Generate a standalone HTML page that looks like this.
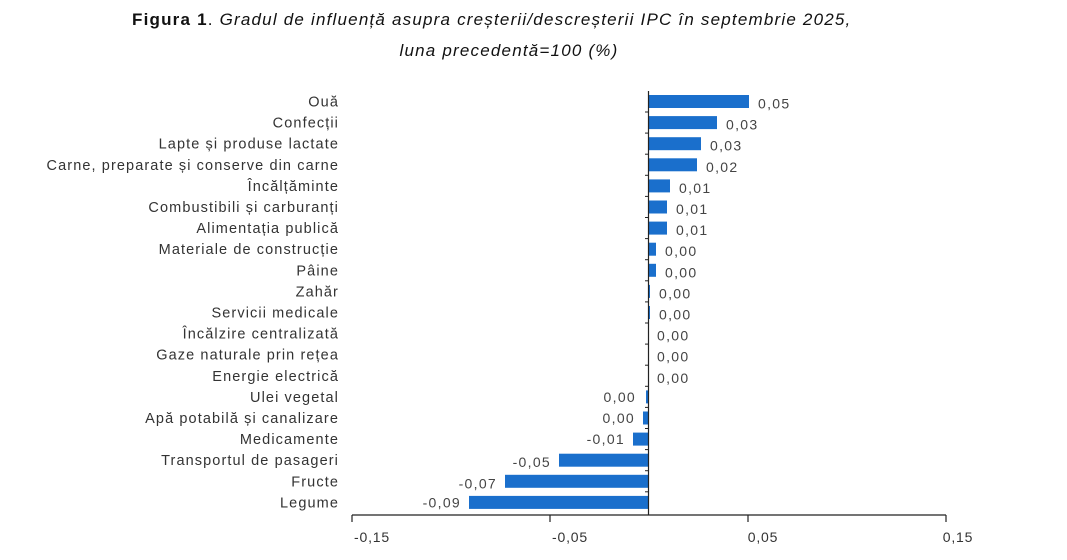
<!DOCTYPE html>
<html><head><meta charset="utf-8"><style>
body{margin:0;background:#fff;width:1067px;height:555px;overflow:hidden}
svg{font-family:"Liberation Sans",sans-serif}
</style></head><body>
<svg width="1067" height="555" viewBox="0 0 1067 555">
<text x="132" y="25" font-size="17" fill="#111" letter-spacing="1.2"><tspan font-weight="bold">Figura 1</tspan><tspan>. </tspan><tspan font-style="italic">Gradul de influență asupra creșterii/descreșterii IPC în septembrie 2025,</tspan></text>
<text x="509" y="56" font-size="17" fill="#111" font-style="italic" text-anchor="middle" letter-spacing="1.2">luna precedentă=100 (%)</text>
<g fill="#1a6fcc">
<rect x="648.5" y="95" width="100.5" height="13"/>
<rect x="648.5" y="116.1" width="68.5" height="13"/>
<rect x="648.5" y="137.2" width="52.5" height="13"/>
<rect x="648.5" y="158.3" width="48.5" height="13"/>
<rect x="648.5" y="179.4" width="21.5" height="13"/>
<rect x="648.5" y="200.5" width="18.5" height="13"/>
<rect x="648.5" y="221.6" width="18.5" height="13"/>
<rect x="648.5" y="242.7" width="7.5" height="13"/>
<rect x="648.5" y="263.8" width="7.5" height="13"/>
<rect x="648.5" y="284.9" width="1.5" height="13"/>
<rect x="648.5" y="306" width="1.5" height="13"/>
<rect x="646" y="390.4" width="2.5" height="13"/>
<rect x="643" y="411.5" width="5.5" height="13"/>
<rect x="633" y="432.6" width="15.5" height="13"/>
<rect x="559" y="453.7" width="89.5" height="13"/>
<rect x="505" y="474.8" width="143.5" height="13"/>
<rect x="469" y="495.9" width="179.5" height="13"/>
</g>
<g font-size="14.5" fill="#333" text-anchor="end" letter-spacing="1.1">
<text x="339" y="106.5">Ouă</text>
<text x="339" y="127.6">Confecții</text>
<text x="339" y="148.7">Lapte și produse lactate</text>
<text x="339" y="169.8">Carne, preparate și conserve din carne</text>
<text x="339" y="190.9">Încălțăminte</text>
<text x="339" y="212">Combustibili și carburanți</text>
<text x="339" y="233.1">Alimentația publică</text>
<text x="339" y="254.2">Materiale de construcție</text>
<text x="339" y="275.3">Pâine</text>
<text x="339" y="296.4">Zahăr</text>
<text x="339" y="317.5">Servicii medicale</text>
<text x="339" y="338.6">Încălzire centralizată</text>
<text x="339" y="359.7">Gaze naturale prin rețea</text>
<text x="339" y="380.8">Energie electrică</text>
<text x="339" y="401.9">Ulei vegetal</text>
<text x="339" y="423">Apă potabilă și canalizare</text>
<text x="339" y="444.1">Medicamente</text>
<text x="339" y="465.2">Transportul de pasageri</text>
<text x="339" y="486.3">Fructe</text>
<text x="339" y="507.4">Legume</text>
</g>
<g font-size="14" fill="#444" letter-spacing="1.3">
<text x="758" y="108.5">0,05</text>
<text x="726" y="129.6">0,03</text>
<text x="710" y="150.7">0,03</text>
<text x="706" y="171.8">0,02</text>
<text x="679" y="192.9">0,01</text>
<text x="676" y="214">0,01</text>
<text x="676" y="235.1">0,01</text>
<text x="665" y="256.2">0,00</text>
<text x="665" y="277.3">0,00</text>
<text x="659" y="298.4">0,00</text>
<text x="659" y="319.5">0,00</text>
<text x="657" y="340.6">0,00</text>
<text x="657" y="361.7">0,00</text>
<text x="657" y="382.8">0,00</text>
</g>
<g font-size="14" fill="#444" text-anchor="end" letter-spacing="1.3">
<text x="636" y="401.9">0,00</text>
<text x="635" y="423">0,00</text>
<text x="625" y="444.1">-0,01</text>
<text x="551" y="467.2">-0,05</text>
<text x="497" y="488.3">-0,07</text>
<text x="461" y="507.4">-0,09</text>
</g>
<g stroke="#222" stroke-width="1">
<line x1="645" y1="112" x2="648.5" y2="112"/><line x1="645" y1="133.1" x2="648.5" y2="133.1"/>
<line x1="645" y1="154.2" x2="648.5" y2="154.2"/><line x1="645" y1="175.3" x2="648.5" y2="175.3"/>
<line x1="645" y1="196.4" x2="648.5" y2="196.4"/><line x1="645" y1="217.5" x2="648.5" y2="217.5"/>
<line x1="645" y1="238.6" x2="648.5" y2="238.6"/><line x1="645" y1="259.7" x2="648.5" y2="259.7"/>
<line x1="645" y1="280.8" x2="648.5" y2="280.8"/><line x1="645" y1="301.9" x2="648.5" y2="301.9"/>
<line x1="645" y1="323" x2="648.5" y2="323"/><line x1="645" y1="344.1" x2="648.5" y2="344.1"/>
<line x1="645" y1="365.2" x2="648.5" y2="365.2"/><line x1="645" y1="386.3" x2="648.5" y2="386.3"/>
<line x1="645" y1="407.4" x2="648.5" y2="407.4"/><line x1="645" y1="428.5" x2="648.5" y2="428.5"/>
<line x1="645" y1="449.6" x2="648.5" y2="449.6"/><line x1="645" y1="470.7" x2="648.5" y2="470.7"/>
<line x1="645" y1="491.8" x2="648.5" y2="491.8"/>
</g>
<line x1="352" y1="515" x2="946" y2="515" stroke="#222" stroke-width="1.2"/>
<g stroke="#222" stroke-width="1.2">
<line x1="352" y1="515" x2="352" y2="522"/><line x1="550" y1="515" x2="550" y2="522"/>
<line x1="748" y1="515" x2="748" y2="522"/><line x1="946" y1="515" x2="946" y2="522"/>
<line x1="648.5" y1="91" x2="648.5" y2="515"/>
</g>
<g font-size="14" fill="#333" text-anchor="middle" letter-spacing="0.8">
<text x="372" y="542">-0,15</text><text x="570" y="542">-0,05</text>
<text x="763" y="542">0,05</text><text x="958" y="542">0,15</text>
</g>
</svg>
</body></html>
